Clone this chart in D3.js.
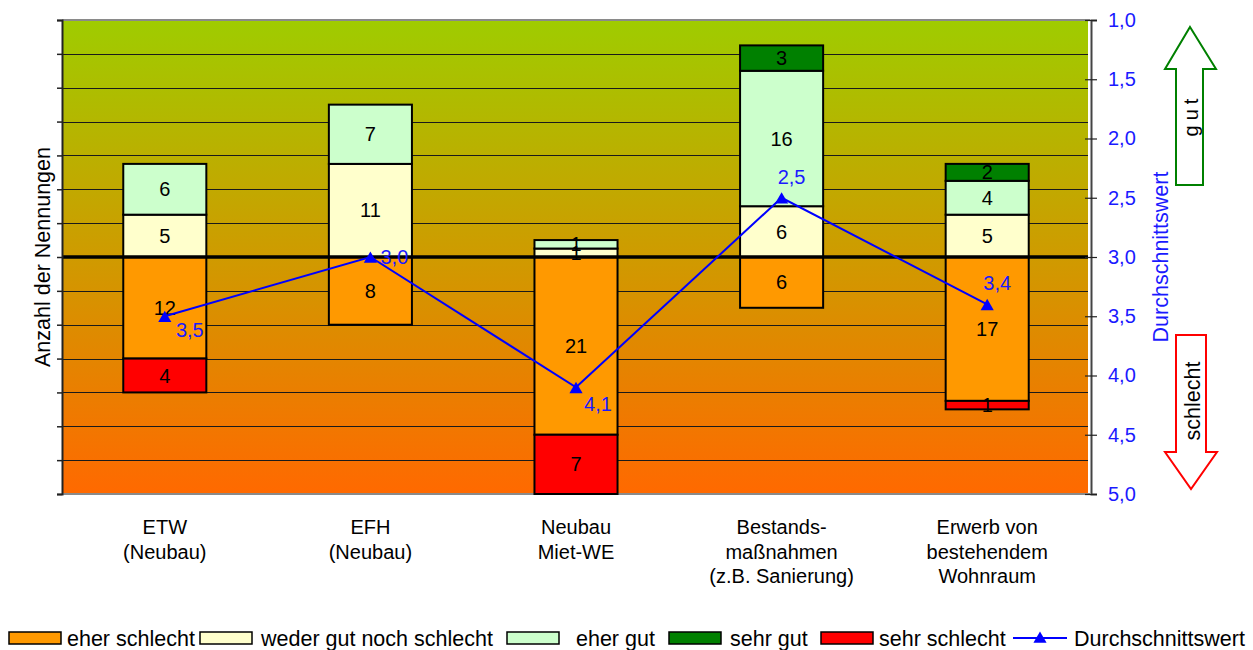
<!DOCTYPE html>
<html>
<head>
<meta charset="utf-8">
<script src="https://cdn.jsdelivr.net/npm/d3@7/dist/d3.min.js"></script>
<style>
  html, body { margin: 0; padding: 0; background: #ffffff; }
  svg { display: block; font-family: "Liberation Sans", Arial, sans-serif; }
</style>
</head>
<body>
<svg id="chart" width="1253" height="650"></svg>
<script>
// Categories (line breaks mark the wrapped axis labels)
const categories = [
  "ETW\n(Neubau)",
  "EFH\n(Neubau)",
  "Neubau\nMiet-WE",
  "Bestands-\nmaßnahmen\n(z.B. Sanierung)",
  "Erwerb von\nbestehendem\nWohnraum"
];

// Number of mentions per rating
const eherSchlecht = [12, 8, 21, 6, 17];
const wederNoch    = [5, 11, 1, 6, 5];
const eherGut      = [6, 7, 1, 16, 4];
const sehrGut      = [0, 0, 0, 3, 2];
const sehrSchlecht = [4, 0, 7, 0, 1];

// Average rating (1 = sehr gut ... 5 = sehr schlecht)
const durchschnitt = [3.5, 3.0, 4.1, 2.5, 3.4];

// Axis ticks
const countTicks = [-28, -24, -20, -16, -12, -8, -4, 0, 4, 8, 12, 16, 20, 24, 28];
const avgTicks = [1.0, 1.5, 2.0, 2.5, 3.0, 3.5, 4.0, 4.5, 5.0];
const avgTickLabels = ["1,0", "1,5", "2,0", "2,5", "3,0", "3,5", "4,0", "4,5", "5,0"];
const avgValueLabels = ["3,5", "3,0", "4,1", "2,5", "3,4"];

// Placement of the average labels relative to their markers
const avgLabelOffset = [[25, 14], [24, 0], [22, 17], [10, -21], [10, -21]];

const svg = d3.select("#chart");
const plot = { left: 62, right: 1090, top: 20, bottom: 494 };
const FONT = 20;
const TITLE_FONT = 21.5;
const LEGEND_FONT = 21.5;

const x = d3.scaleBand().domain(d3.range(categories.length))
  .range([plot.left, plot.right]).paddingInner(0).paddingOuter(0);
const barW = x.bandwidth() * 0.404;
const cx = i => x(i) + x.bandwidth() / 2;

const yCount = d3.scaleLinear().domain([-28, 28]).range([plot.bottom, plot.top]);
const yAvg = d3.scaleLinear().domain([1, 5]).range([plot.top, plot.bottom]);

// Background gradient of the plot area
const defs = svg.append("defs");
const grad = defs.append("linearGradient").attr("id", "bg")
  .attr("x1", 0).attr("y1", 0).attr("x2", 0).attr("y2", 1);
grad.append("stop").attr("offset", "0%").attr("stop-color", "#9fcc00");
grad.append("stop").attr("offset", "100%").attr("stop-color", "#ff6900");

svg.append("rect")
  .attr("x", plot.left).attr("y", plot.top)
  .attr("width", plot.right - plot.left - 2).attr("height", plot.bottom - plot.top)
  .attr("fill", "url(#bg)");

// Horizontal gridlines
svg.append("g").selectAll("line")
  .data(countTicks.filter(t => t !== 28 && t !== -28 && t !== 0))
  .join("line")
  .attr("x1", plot.left).attr("x2", plot.right - 2)
  .attr("y1", d => Math.round(yCount(d)) + 0.5).attr("y2", d => Math.round(yCount(d)) + 0.5)
  .attr("stroke", "#1a1a1a").attr("stroke-width", 1);

// Top and bottom borders
[plot.top, plot.bottom].forEach(yy => {
  svg.append("line").attr("x1", plot.left).attr("x2", plot.right)
    .attr("y1", yy).attr("y2", yy).attr("stroke", "#8a8a8a").attr("stroke-width", 2);
});

// Stacked bars
const series = [
  { name: "eher schlecht", values: eherSchlecht, color: "#ff9900", sign: -1 },
  { name: "sehr schlecht", values: sehrSchlecht, color: "#ff0000", sign: -1 },
  { name: "weder gut noch schlecht", values: wederNoch, color: "#ffffcc", sign: 1 },
  { name: "eher gut", values: eherGut, color: "#ccffcc", sign: 1 },
  { name: "sehr gut", values: sehrGut, color: "#008000", sign: 1 }
];

const segments = [];
categories.forEach((c, i) => {
  let pos = 0, neg = 0;
  series.forEach(s => {
    const v = s.values[i];
    if (!v) return;
    let y0, y1;
    if (s.sign > 0) { y0 = pos; y1 = pos + v; pos = y1; }
    else { y0 = neg; y1 = neg - v; neg = y1; }
    segments.push({ i, v, y0, y1, color: s.color });
  });
});

const barG = svg.append("g");
barG.selectAll("rect").data(segments).join("rect")
  .attr("x", d => cx(d.i) - barW / 2)
  .attr("width", barW)
  .attr("y", d => yCount(Math.max(d.y0, d.y1)))
  .attr("height", d => Math.abs(yCount(d.y0) - yCount(d.y1)))
  .attr("fill", d => d.color)
  .attr("stroke", "#000").attr("stroke-width", 2);

// Zero line
svg.append("line")
  .attr("x1", plot.left).attr("x2", plot.right - 2)
  .attr("y1", yCount(0)).attr("y2", yCount(0))
  .attr("stroke", "#000").attr("stroke-width", 3.5);

// Segment value labels
barG.selectAll("text").data(segments).join("text")
  .attr("x", d => cx(d.i))
  .attr("y", d => (yCount(d.y0) + yCount(d.y1)) / 2)
  .attr("dy", "0.35em")
  .attr("text-anchor", "middle")
  .attr("font-size", FONT)
  .attr("fill", "#000")
  .text(d => d.v);

// Left axis (count), ticks only
const leftAxis = svg.append("g").attr("transform", `translate(${plot.left},0)`)
  .call(d3.axisLeft(yCount).tickValues(countTicks).tickSize(5).tickFormat(""));
leftAxis.select(".domain").attr("stroke", "#222").attr("stroke-width", 2);
leftAxis.selectAll(".tick line").attr("stroke", "#222").attr("stroke-width", 1.5);

// Right axis (average)
const rightAxis = svg.append("g").attr("transform", `translate(${plot.right + 1},0)`)
  .call(d3.axisRight(yAvg).tickValues(avgTicks).tickSize(6).tickPadding(11)
    .tickFormat((d, i) => avgTickLabels[i]));
rightAxis.select(".domain").attr("stroke", "#444").attr("stroke-width", 2);
rightAxis.selectAll(".tick line").attr("x1", -6).attr("stroke", "#222").attr("stroke-width", 1.2);
rightAxis.selectAll(".tick text")
  .attr("font-size", FONT).attr("fill", "#1a1aff")
  .attr("font-family", "'Liberation Sans', Arial, sans-serif");

// Axis titles
svg.append("text")
  .attr("transform", `translate(42,${(plot.top + plot.bottom) / 2}) rotate(-90)`)
  .attr("text-anchor", "middle").attr("dy", "0.35em")
  .attr("font-size", TITLE_FONT).attr("fill", "#000")
  .text("Anzahl der Nennungen");
svg.append("text")
  .attr("transform", `translate(1160,${(plot.top + plot.bottom) / 2}) rotate(-90)`)
  .attr("text-anchor", "middle").attr("dy", "0.35em")
  .attr("font-size", TITLE_FONT).attr("fill", "#1a1aff")
  .text("Durchschnittswert");

// Category labels
const catG = svg.append("g");
categories.forEach((c, i) => {
  const t = catG.append("text")
    .attr("x", cx(i)).attr("y", 534)
    .attr("text-anchor", "middle").attr("font-size", FONT).attr("fill", "#000");
  c.split("\n").forEach((line, k) => {
    t.append("tspan").attr("x", cx(i)).attr("dy", k === 0 ? 0 : 24.5).text(line);
  });
});

// Average line with triangle markers
const lineGen = d3.line().x((d, i) => cx(i)).y(d => yAvg(d));
svg.append("path").datum(durchschnitt)
  .attr("d", lineGen)
  .attr("fill", "none").attr("stroke", "#0000ff").attr("stroke-width", 2);
const tri = d3.symbol().type(d3.symbolTriangle).size(75);
svg.append("g").selectAll("path").data(durchschnitt).join("path")
  .attr("d", tri)
  .attr("transform", (d, i) => `translate(${cx(i)},${yAvg(d) + 2})`)
  .attr("fill", "#0000ff");
svg.append("g").selectAll("text").data(durchschnitt).join("text")
  .attr("x", (d, i) => cx(i) + avgLabelOffset[i][0])
  .attr("y", (d, i) => yAvg(d) + avgLabelOffset[i][1])
  .attr("dy", "0.35em")
  .attr("text-anchor", "middle")
  .attr("font-size", FONT).attr("fill", "#1a1aff")
  .text((d, i) => avgValueLabels[i]);

// Direction arrows
const arrowGut = [[1190, 27], [1216, 69], [1203, 69], [1203, 185], [1176, 185], [1176, 69], [1165, 69]];
const arrowSchlecht = [[1176, 335], [1206, 335], [1206, 452], [1217, 452], [1191, 489], [1165, 452], [1176, 452]];
svg.append("path").attr("d", d3.line()(arrowGut) + "Z")
  .attr("fill", "#ffffff").attr("stroke", "#008000").attr("stroke-width", 2);
svg.append("path").attr("d", d3.line()(arrowSchlecht) + "Z")
  .attr("fill", "#ffffff").attr("stroke", "#ff0000").attr("stroke-width", 2);
svg.append("text")
  .attr("transform", "translate(1191,115) rotate(-90)")
  .attr("text-anchor", "middle").attr("dy", "0.35em")
  .attr("font-size", FONT).attr("letter-spacing", 5).attr("fill", "#000")
  .text("gut");
svg.append("text")
  .attr("transform", "translate(1192,401) rotate(-90)")
  .attr("text-anchor", "middle").attr("dy", "0.35em")
  .attr("font-size", TITLE_FONT).attr("fill", "#000")
  .text("schlecht");

// Legend
const legendItems = [
  { label: "eher schlecht", color: "#ff9900", sx: 9, tx: 67 },
  { label: "weder gut noch schlecht", color: "#ffffcc", sx: 200, tx: 261 },
  { label: "eher gut", color: "#ccffcc", sx: 507, tx: 576 },
  { label: "sehr gut", color: "#008000", sx: 669, tx: 730 },
  { label: "sehr schlecht", color: "#ff0000", sx: 821, tx: 879 }
];
const legY = 638;
const leg = svg.append("g");
legendItems.forEach(it => {
  leg.append("rect").attr("x", it.sx).attr("y", legY - 6).attr("width", 52).attr("height", 12)
    .attr("fill", it.color).attr("stroke", "#000").attr("stroke-width", 1.5);
  leg.append("text").attr("x", it.tx).attr("y", legY).attr("dy", "0.35em")
    .attr("font-size", LEGEND_FONT).attr("fill", "#000").text(it.label);
});
leg.append("line").attr("x1", 1013).attr("x2", 1067).attr("y1", legY).attr("y2", legY)
  .attr("stroke", "#0000ff").attr("stroke-width", 2);
leg.append("path").attr("d", tri).attr("transform", `translate(1040,${legY + 1})`).attr("fill", "#0000ff");
leg.append("text").attr("x", 1074).attr("y", legY).attr("dy", "0.35em")
  .attr("font-size", LEGEND_FONT).attr("fill", "#000").text("Durchschnittswert");
</script>
</body>
</html>
